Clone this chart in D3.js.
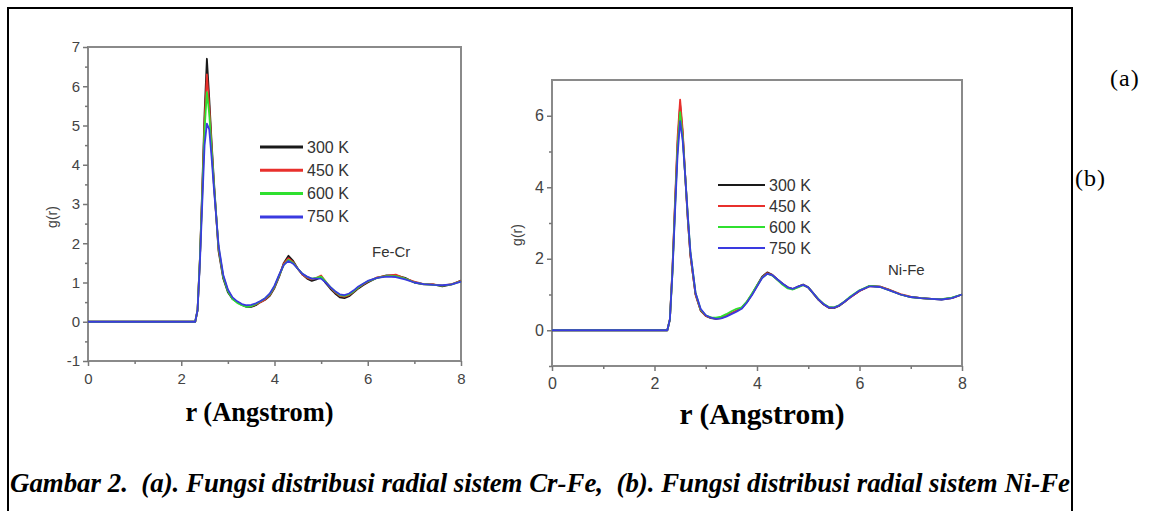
<!DOCTYPE html>
<html>
<head>
<meta charset="utf-8">
<script src="https://cdn.jsdelivr.net/npm/d3@7"></script>
<style>
  body { margin: 0; background: #fff; }
  .sans { font-family: "Liberation Sans", Arial, sans-serif; }
  .serif { font-family: "Liberation Serif", "Times New Roman", serif; }
</style>
</head>
<body>
<script>
// r values (Angstrom) shared by every series
var rGrid = [0, 2.25, 2.3, 2.35, 2.4, 2.45, 2.5, 2.55, 2.6, 2.65, 2.7,
  2.8, 2.9, 3.0, 3.1, 3.2, 3.3, 3.4, 3.5, 3.6, 3.7,
  3.8, 3.9, 4.0, 4.1, 4.2, 4.3, 4.4, 4.5, 4.6, 4.7,
  4.8, 4.9, 5.0, 5.1, 5.2, 5.3, 5.4, 5.5, 5.6, 5.7,
  5.8, 5.9, 6.0,
  6.2, 6.4, 6.6, 6.8, 7.0, 7.2, 7.4, 7.6, 7.8, 8.0];

var temps = ["300 K", "450 K", "600 K", "750 K"];
var colors = ["#1a1a1a", "#e8302c", "#2fe02f", "#3a3ae0"];

// (a) Fe-Cr
var feCr300 = [0, 0, 0, 0.3, 1.6, 3.4, 5.3, 6.7, 5.7, 4.6, 3.6,
  1.8, 1.1, 0.75, 0.58, 0.5, 0.43, 0.38, 0.38, 0.42, 0.5,
  0.56, 0.66, 0.86, 1.15, 1.5, 1.68, 1.55, 1.35, 1.2, 1.1,
  1.04, 1.08, 1.15, 0.98, 0.84, 0.72, 0.62, 0.6, 0.65, 0.75,
  0.85, 0.93, 1.0,
  1.12, 1.18, 1.18, 1.12, 1.0, 0.95, 0.95, 0.9, 0.95, 1.05];
var feCr450 = [0, 0, 0, 0.3, 1.6, 3.3, 5.1, 6.3, 5.5, 4.5, 3.5,
  1.85, 1.15, 0.8, 0.6, 0.5, 0.44, 0.4, 0.4, 0.44, 0.5,
  0.57, 0.68, 0.88, 1.17, 1.48, 1.62, 1.52, 1.35, 1.2, 1.12,
  1.08, 1.12, 1.18, 1.02, 0.87, 0.75, 0.66, 0.64, 0.68, 0.77,
  0.87, 0.95, 1.02,
  1.13, 1.17, 1.2, 1.1, 1.02, 0.96, 0.95, 0.92, 0.96, 1.04];
var feCr600 = [0, 0, 0, 0.3, 1.6, 3.2, 4.9, 5.85, 5.3, 4.4, 3.5,
  1.9, 1.15, 0.78, 0.58, 0.48, 0.42, 0.38, 0.4, 0.45, 0.52,
  0.6, 0.7, 0.9, 1.18, 1.45, 1.58, 1.5, 1.35, 1.22, 1.14,
  1.1, 1.12, 1.15, 1.02, 0.88, 0.77, 0.68, 0.66, 0.7, 0.78,
  0.88, 0.96, 1.03,
  1.12, 1.16, 1.16, 1.1, 1.0, 0.96, 0.94, 0.92, 0.95, 1.03];
var feCr750 = [0, 0, 0, 0.3, 1.5, 3.0, 4.5, 5.05, 4.9, 4.2, 3.4,
  1.95, 1.2, 0.82, 0.62, 0.52, 0.45, 0.42, 0.43, 0.47, 0.53,
  0.6, 0.72, 0.92, 1.2, 1.45, 1.55, 1.48, 1.35, 1.22, 1.15,
  1.1, 1.1, 1.1, 1.0, 0.88, 0.78, 0.7, 0.68, 0.72, 0.8,
  0.9, 0.97, 1.04,
  1.12, 1.15, 1.14, 1.08, 1.0, 0.96, 0.94, 0.93, 0.95, 1.02];

// (b) Ni-Fe
var niFe300 = [0, 0, 0.3, 1.7, 3.5, 5.2, 6.3, 5.5, 4.3, 3.1, 2.1,
  1.0, 0.55, 0.4, 0.34, 0.32, 0.34, 0.4, 0.47, 0.54, 0.62,
  0.78, 1.0, 1.25, 1.5, 1.62, 1.55, 1.42, 1.3, 1.2, 1.15,
  1.22, 1.28, 1.2, 1.02, 0.85, 0.72, 0.63, 0.62, 0.68, 0.78,
  0.9, 1.0, 1.1,
  1.24, 1.22, 1.12, 1.0, 0.93, 0.9, 0.88, 0.86, 0.9, 1.0];
var niFe450 = [0, 0, 0.3, 1.7, 3.6, 5.4, 6.45, 5.6, 4.3, 3.1, 2.1,
  1.0, 0.56, 0.4, 0.35, 0.33, 0.35, 0.41, 0.48, 0.55, 0.63,
  0.79, 1.0, 1.24, 1.48, 1.6, 1.54, 1.41, 1.29, 1.19, 1.15,
  1.21, 1.27, 1.2, 1.03, 0.86, 0.73, 0.64, 0.63, 0.69, 0.79,
  0.9, 1.0, 1.1,
  1.23, 1.22, 1.12, 1.01, 0.94, 0.9, 0.88, 0.87, 0.9, 1.0];
var niFe600 = [0, 0, 0.3, 1.6, 3.4, 5.1, 6.1, 5.4, 4.3, 3.2, 2.2,
  1.05, 0.58, 0.42, 0.36, 0.35, 0.38, 0.45, 0.53, 0.6, 0.64,
  0.8, 1.02, 1.25, 1.47, 1.58, 1.53, 1.4, 1.27, 1.17, 1.14,
  1.2, 1.26, 1.2, 1.03, 0.87, 0.74, 0.65, 0.64, 0.7, 0.8,
  0.92, 1.02, 1.12,
  1.24, 1.21, 1.11, 1.0, 0.93, 0.9, 0.88, 0.87, 0.91, 1.0];
var niFe750 = [0, 0, 0.3, 1.6, 3.3, 4.9, 5.85, 5.3, 4.3, 3.2, 2.2,
  1.05, 0.6, 0.42, 0.35, 0.32, 0.33, 0.38, 0.45, 0.52, 0.6,
  0.77, 0.98, 1.22, 1.46, 1.58, 1.54, 1.42, 1.3, 1.2, 1.16,
  1.22, 1.27, 1.2, 1.03, 0.86, 0.73, 0.64, 0.63, 0.69, 0.79,
  0.9, 1.01, 1.11,
  1.23, 1.21, 1.11, 1.0, 0.93, 0.9, 0.88, 0.86, 0.9, 1.0];

var xTicks = [0, 2, 4, 6, 8];
var xMinor = [1, 3, 5, 7];
var yTicksA = [-1, 0, 1, 2, 3, 4, 5, 6, 7];
var yMinorA = [-0.5, 0.5, 1.5, 2.5, 3.5, 4.5, 5.5, 6.5];
var yTicksB = [0, 2, 4, 6];
var yMinorB = [-1, 1, 3, 5];

var W = 1158, H = 511;
var svg = d3.select("body").append("svg")
    .attr("width", W)
    .attr("height", H);

// outer figure frame (bottom edge is cut off)
svg.append("path")
    .attr("d", "M8,511V8H1072V511")
    .attr("fill", "none")
    .attr("stroke", "#000")
    .attr("stroke-width", 2);

function drawPanel(p) {
    var x = d3.scaleLinear().domain([0, 8]).range([0, p.w]);
    var y = d3.scaleLinear().domain([-1, 7]).range([p.h, 0]);
    var g = svg.append("g").attr("transform", "translate(" + p.left + "," + p.top + ")");

    // plot frame
    g.append("rect")
        .attr("width", p.w).attr("height", p.h)
        .attr("fill", "none").attr("stroke", "#8a8a8a").attr("stroke-width", 2);

    // major and minor ticks
    g.append("g")
        .call(d3.axisLeft(y).tickValues(p.yTicks).tickSize(5).tickPadding(3)
            .tickFormat(function(d){ return String(d); }));
    g.append("g")
        .call(d3.axisLeft(y).tickValues(p.yMinor).tickSize(3).tickFormat(""));
    g.append("g").attr("transform", "translate(0," + p.h + ")")
        .call(d3.axisBottom(x).tickValues(xTicks).tickSize(5).tickPadding(7));
    g.append("g").attr("transform", "translate(0," + p.h + ")")
        .call(d3.axisBottom(x).tickValues(xMinor).tickSize(3).tickFormat(""));
    g.selectAll(".domain").remove();
    g.selectAll("g").attr("font-family", null);
    g.selectAll(".tick line").attr("stroke", "#777").attr("stroke-width", 1.5);
    g.selectAll(".tick text")
        .attr("class", "sans")
        .attr("fill", "#444")
        .style("font-size", p.tickFont + "px");

    // curves, hottest drawn last
    var line = d3.line()
        .x(function(d){ return x(d[0]); })
        .y(function(d){ return y(d[1]); });
    p.series.forEach(function(s, i){
        g.append("path")
            .datum(rGrid.map(function(r, k){ return [r, s[k]]; }))
            .attr("d", line)
            .attr("fill", "none")
            .attr("stroke", colors[i])
            .attr("stroke-width", 1.8)
            .attr("stroke-linejoin", "round");
    });

    // legend
    var leg = g.selectAll(".leg").data(temps).enter().append("g")
        .attr("transform", function(d, i){ return "translate(" + p.legX + "," + (p.legY + i * p.legGap) + ")"; });
    leg.append("line")
        .attr("x1", 0).attr("x2", p.legLen)
        .attr("stroke", function(d, i){ return colors[i]; })
        .attr("stroke-width", p.legWidth);
    leg.append("text")
        .attr("class", "sans")
        .attr("x", p.legLen + 4)
        .attr("y", 5.5)
        .style("font-size", "16px")
        .attr("fill", "#333")
        .text(function(d){ return d; });

    // system label
    g.append("text")
        .attr("class", "sans")
        .attr("x", p.nameX).attr("y", p.nameY)
        .style("font-size", "15px")
        .attr("fill", "#333")
        .text(p.name);

    // axis titles
    svg.append("text")
        .attr("class", "sans")
        .attr("transform", "translate(" + p.gx + "," + p.gy + ") rotate(-90)")
        .attr("text-anchor", "middle")
        .attr("dominant-baseline", "central")
        .style("font-size", "14px")
        .attr("fill", "#444")
        .text("g(r)");
    svg.append("text")
        .attr("class", "serif")
        .attr("x", p.left + p.w / 2 - p.titleLen / 2 + p.titleShift)
        .attr("y", p.titleY)
        .attr("textLength", p.titleLen)
        .attr("lengthAdjust", "spacingAndGlyphs")
        .style("font-weight", "bold")
        .style("font-size", p.titleFont + "px")
        .text("r (Angstrom)");
}

drawPanel({
    left: 88, top: 47, w: 373, h: 314,
    yTicks: yTicksA, yMinor: yMinorA, tickFont: 15,
    series: [feCr300, feCr450, feCr600, feCr750],
    legX: 172, legY: 100, legGap: 23.3, legLen: 43, legWidth: 3,
    name: "Fe-Cr", nameX: 284, nameY: 210,
    gx: 52, gy: 217,
    titleLen: 148, titleShift: -15, titleY: 421, titleFont: 27
});

drawPanel({
    left: 552, top: 80, w: 410, h: 286,
    yTicks: yTicksB, yMinor: yMinorB, tickFont: 16,
    series: [niFe300, niFe450, niFe600, niFe750],
    legX: 166, legY: 105, legGap: 21, legLen: 47, legWidth: 2,
    name: "Ni-Fe", nameX: 336, nameY: 195,
    gx: 517, gy: 235,
    titleLen: 165, titleShift: 5, titleY: 424, titleFont: 29
});

// panel markers at the right
svg.selectAll(".mark").data(["(a)", "(b)"]).enter().append("text")
    .attr("class", "serif")
    .attr("x", function(d, i){ return i === 0 ? 1110 : 1075; })
    .attr("y", function(d, i){ return i === 0 ? 86 : 186; })
    .style("font-size", "24px")
    .style("letter-spacing", "1px")
    .text(function(d){ return d; });

// figure caption
svg.append("text")
    .attr("class", "serif")
    .attr("x", 10)
    .attr("y", 492)
    .attr("textLength", 1060)
    .attr("lengthAdjust", "spacingAndGlyphs")
    .style("white-space", "pre")
    .style("font-weight", "bold")
    .style("font-style", "italic")
    .style("font-size", "27px")
    .text("Gambar 2.  (a). Fungsi distribusi radial sistem Cr-Fe,  (b). Fungsi distribusi radial sistem Ni-Fe");
</script>
</body>
</html>
